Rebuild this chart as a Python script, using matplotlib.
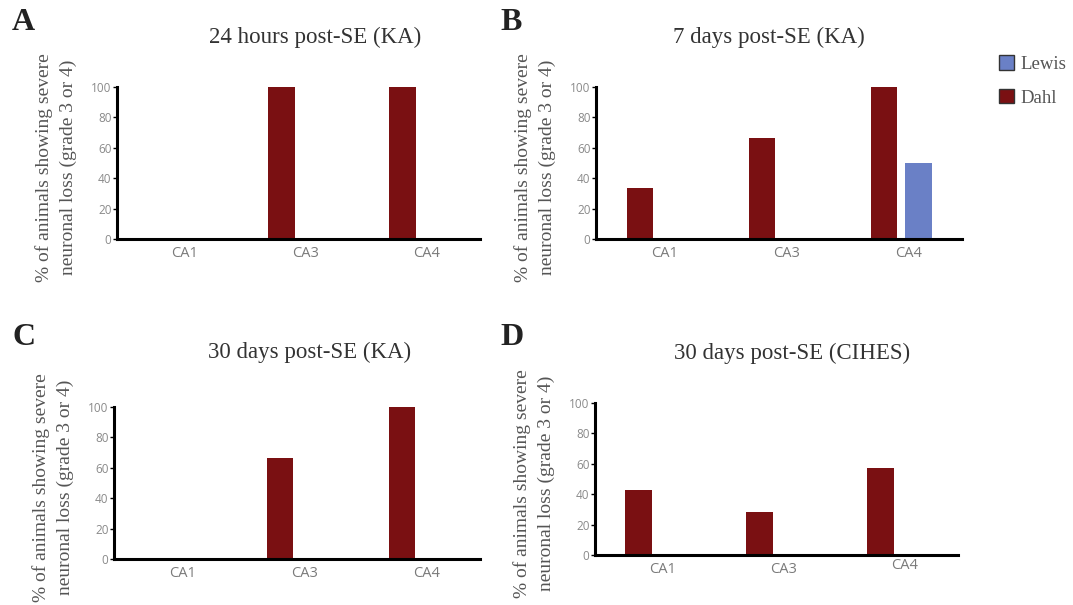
import matplotlib
matplotlib.use('Agg')
import matplotlib.pyplot as plt
import matplotlib.transforms as mtransforms
import numpy as np

regions = ['CA1', 'CA3', 'CA4']
titles = ['24 hours post-SE (KA)', '7 days post-SE (KA)',
          '30 days post-SE (KA)', '30 days post-SE (CIHES)']
letters = ['A', 'B', 'C', 'D']

dahl_24h = [0, 100, 100]
lewis_24h = [0, 0, 0]
dahl_7d = [33.3, 66.7, 100]
lewis_7d = [0, 0, 50]
dahl_30d = [0, 66.7, 100]
lewis_30d = [0, 0, 0]
dahl_cihes = [42.9, 28.6, 57.1]
lewis_cihes = [0, 0, 0]

yticks = [0, 20, 40, 60, 80, 100]
ylabel = '% of animals showing severe\nneuronal loss (grade 3 or 4)'

dahl_col = '#7a1012'
lewis_col = '#6a80c6'
serif = 'Liberation Serif'

W, H = 1073, 605
fig = plt.figure(figsize=(W / 100, H / 100), dpi=100)

# axes boxes in pixels: left, top, right, bottom
boxes = [(117, 87, 480, 239), (596, 87, 962, 239),
         (114, 407, 480, 559), (595, 403, 958, 555)]
title_pos = [(315, 37), (769, 37), (310, 352), (792, 353)]
letter_pos = [(12, 22), (500, 22), (12, 337), (500, 337)]

dahl_all = [dahl_24h, dahl_7d, dahl_30d, dahl_cihes]
lewis_all = [lewis_24h, lewis_7d, lewis_30d, lewis_cihes]

x = np.arange(len(regions))
w = 0.22
off = 0.14

for i in range(4):
    l, t, r, b = boxes[i]
    ax = fig.add_axes([l / W, 1 - b / H, (r - l) / W, (b - t) / H])
    hd = ax.bar(x - off, dahl_all[i], width=w, color=dahl_col, label='Dahl')
    hl = ax.bar(x + off, lewis_all[i], width=w, color=lewis_col, label='Lewis')
    ax.set_xlim(-0.5, 2.5)
    ax.set_ylim(0, 100)
    ax.set_yticks(yticks)
    ax.set_xticks(x + 0.06)
    ax.set_xticklabels(regions, fontfamily='Open Sans', fontsize=10.5, color='#7a7a7a')
    ax.tick_params(axis='x', length=0, pad=5)
    ax.tick_params(axis='y', length=3, width=1, pad=1, labelsize=8.5, labelcolor='#8a8a8a')
    for lab in ax.get_yticklabels():
        lab.set_fontfamily('Open Sans')
    for s in ['top', 'right']:
        ax.spines[s].set_visible(False)
    for s in ['left', 'bottom']:
        ax.spines[s].set_linewidth(2.2)
    ax.set_ylabel(ylabel, fontfamily=serif, fontsize=14, color='#555555', linespacing=1.55)
    ax.yaxis.label.set_va('center')
    ax.yaxis.set_label_coords(-61 / (r - l), 0.47)

    if i == 3:
        # the CA4 label sits a little higher in this panel
        lab = ax.get_xticklabels()[2]
        lab.set_transform(lab.get_transform() +
                          mtransforms.ScaledTranslation(0, 4 / 100, fig.dpi_scale_trans))

    tx, ty = title_pos[i]
    fig.text(tx / W, 1 - ty / H, titles[i], ha='center', va='center',
             fontfamily=serif, fontsize=16.5, color='#333333')
    lx, ly = letter_pos[i]
    fig.text(lx / W, 1 - ly / H, letters[i], ha='left', va='center',
             fontfamily=serif, fontweight='bold', fontsize=23, color='#222222')

    if i == 1:
        leg_handles = [hl, hd]

leg = fig.legend(leg_handles, ['Lewis', 'Dahl'], loc='upper left',
                 bbox_to_anchor=(990 / W, 1 - 46 / H), frameon=False,
                 handlelength=0.8, handleheight=0.8, handletextpad=0.3,
                 labelspacing=0.85, borderpad=0,
                 prop={'family': serif, 'size': 13.5})
for txt in leg.get_texts():
    txt.set_color('#555555')
for p in leg.get_patches():
    p.set_edgecolor('#333333')
    p.set_linewidth(1)

fig.savefig('out.png', dpi=100)
